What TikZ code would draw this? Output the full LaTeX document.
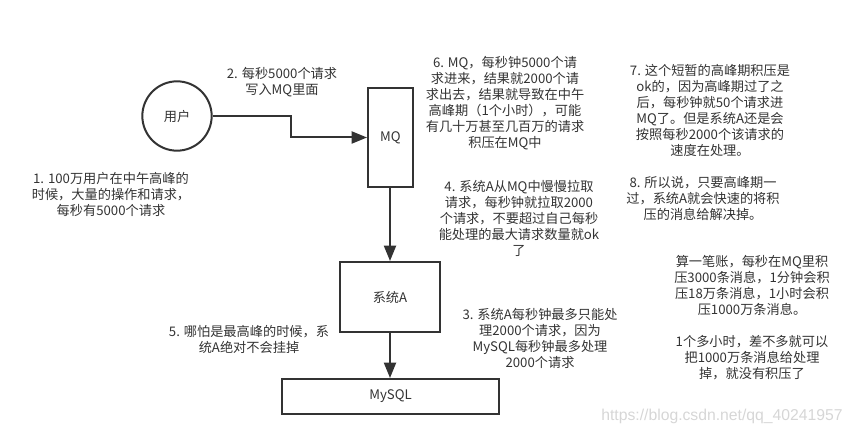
\documentclass[tikz,border=0pt]{standalone}
\usepackage{fontspec}
\setmainfont{Noto Sans CJK SC}
\newfontfamily\markfont{Liberation Sans}
\usetikzlibrary{arrows.meta}
\definecolor{inkgray}{HTML}{333333}
\tikzset{
  label text/.style={text=inkgray,align=center,font=\fontsize{9.9}{12}\selectfont},
  box/.style={draw=inkgray,line width=1.5pt,inner sep=0pt,label text},
  note/.style={inner sep=0pt,label text,yshift=-0.9pt},
  flow/.style={draw=inkgray,line width=1.5pt,-{Triangle[length=11.5pt,width=9pt]}}
}
\begin{document}
\begin{tikzpicture}[x=0.75pt,y=0.75pt,yscale=-1,xscale=1]
\useasboundingbox (0,0) rectangle (853,434);

%Shapes
\node (user) [box,circle,minimum size=52pt] at (177,116) {用户};
\node (mq) [box,minimum width=33.75pt,minimum height=74.25pt] at (390.5,137.5) {MQ};
\node (sysa) [box,minimum width=75pt,minimum height=52.5pt] at (390,297) {系统A};
\node (mysql) [box,minimum width=162.75pt,minimum height=26.25pt] at (390.5,396.5) {MySQL};

%Connectors
\draw[flow] (user.east) -- ++(78,0) |- (mq.west);
\draw[flow] (mq.south -| sysa.north) -- (sysa.north);
\draw[flow] (sysa.south) -- (mysql.north -| sysa.south);

% Text Node
\node (note1) [note] at (111,193.5) {1. 100万用户在中午高峰的\\时候，大量的操作和请求，\\每秒有5000个请求};
% Text Node
\node (note2) [note] at (282,81) {2. 每秒5000个请求\\写入MQ里面};
% Text Node
\node (note3) [note] at (540,337) {3. 系统A每秒钟最多只能处\\理2000个请求，因为\\MySQL每秒钟最多处理\\2000个请求};
% Text Node
\node (note4) [note] at (519,217) {4. 系统A从MQ中慢慢拉取\\请求，每秒钟就拉取2000\\个请求，不要超过自己每秒\\能处理的最大请求数量就ok\\了};
% Text Node
\node (note5) [note] at (249,338) {5. 哪怕是最高峰的时候，系\\统A绝对不会挂掉};
% Text Node
\node (note6) [note] at (505,102) {6. MQ，每秒钟5000个请\\求进来，结果就2000个请\\求出去，结果就导致在中午\\高峰期（1个小时），可能\\有几十万甚至几百万的请求\\积压在MQ中};
% Text Node
\node (note7) [note] at (710,109) {7. 这个短暂的高峰期积压是\\ok的，因为高峰期过了之\\后，每秒钟就50个请求进\\MQ了。但是系统A还是会\\按照每秒2000个该请求的\\速度在处理。};
% Text Node
\node (note8) [note] at (703,197) {8. 所以说，只要高峰期一\\过，系统A就会快速的将积\\压的消息给解决掉。};
% Text Node
\node (note9) [note] at (752,316) {算一笔账，每秒在MQ里积\\压3000条消息，1分钟会积\\压18万条消息，1小时会积\\压1000万条消息。\\ \\1个多小时，差不多就可以\\把1000万条消息给处理\\掉，就没有积压了};
% Text Node
\node (mark) [inner sep=0pt,text=black!16,font=\markfont\fontsize{11.8}{14}\selectfont] at (722,416) {https://blog.csdn.net/qq\_40241957};
\end{tikzpicture}
\end{document}
